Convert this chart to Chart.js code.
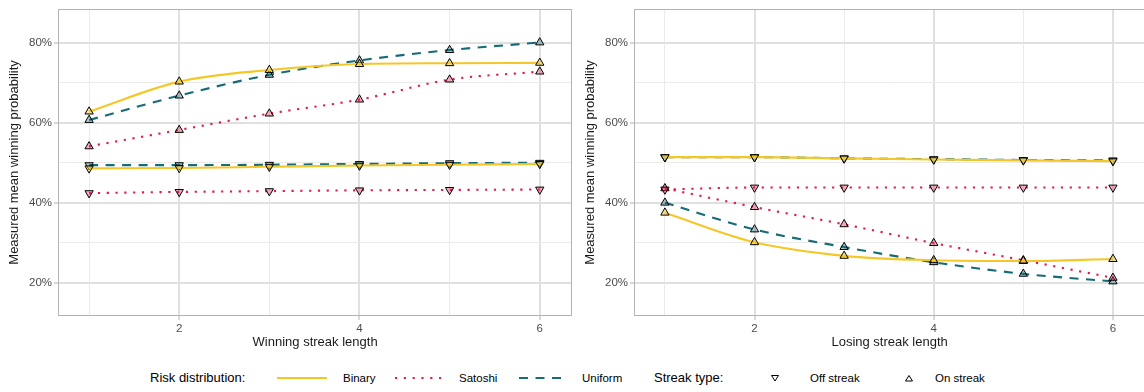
<!DOCTYPE html>
<html>
<head>
<meta charset="utf-8">
<script src="https://cdn.jsdelivr.net/npm/chart.js@4.4.1/dist/chart.umd.min.js"></script>
<style>
  html, body { margin: 0; padding: 0; background: #fff; overflow: hidden; width: 1144px; height: 392px; }
  body { position: relative; font-family: "Liberation Sans", Arial, sans-serif; }
  canvas { position: absolute; top: 0; }
  #c1 { left: 0; }
  #c2 { left: 576px; }
  .lg { position: absolute; top: 369px; height: 18px; line-height: 18px; white-space: nowrap; color: #000; }
  .lt { font-size: 13px; }
  .li { font-size: 11.5px; }
  svg.lg { overflow: visible; }
</style>
</head>
<body>
<canvas id="c1" width="578" height="356"></canvas>
<canvas id="c2" width="575" height="356"></canvas>

<span class="lg lt" style="left:150px">Risk distribution:</span>
<svg class="lg" style="left:276px" width="52" height="18"><line x1="1" y1="9" x2="51" y2="9" stroke="#F5C726" stroke-width="2"/></svg>
<span class="lg li" style="left:343px">Binary</span>
<svg class="lg" style="left:394px" width="52" height="18"><line x1="1" y1="9" x2="51" y2="9" stroke="#E5194D" stroke-width="2.2" stroke-dasharray="2.2 6.6"/></svg>
<span class="lg li" style="left:459px">Satoshi</span>
<svg class="lg" style="left:518px" width="50" height="18"><line x1="1" y1="9" x2="49" y2="9" stroke="#156B76" stroke-width="2.2" stroke-dasharray="9 7.5"/></svg>
<span class="lg li" style="left:582px">Uniform</span>
<span class="lg lt" style="left:654px">Streak type:</span>
<svg class="lg" style="left:770px" width="10" height="18"><polygon points="1.5,6.5 8.5,6.5 5,12" fill="#fff" stroke="#000" stroke-width="1"/></svg>
<span class="lg li" style="left:810px">Off streak</span>
<svg class="lg" style="left:904px" width="10" height="18"><polygon points="1.5,12 8.5,12 5,6.5" fill="#fff" stroke="#000" stroke-width="1"/></svg>
<span class="lg li" style="left:935px">On streak</span>

<script>
// ---------- data (values in %) ----------
const streakLengths = [1, 2, 3, 4, 5, 6];
const xTickLabels = [2, 4, 6];
const yTickLabels = [20, 40, 60, 80];
const yGridValues = [20, 30, 40, 50, 60, 70, 80];

// Winning streaks
const winBinaryOn   = [62.8, 70.3, 73.2, 74.7, 74.9, 75.0];
const winSatoshiOn  = [54.1, 58.2, 62.3, 65.8, 70.8, 72.8];
const winUniformOn  = [60.7, 66.8, 72.0, 75.6, 78.2, 80.1];
const winBinaryOff  = [48.6, 48.7, 49.0, 49.3, 49.5, 49.7];
const winSatoshiOff = [42.4, 42.7, 42.9, 43.1, 43.2, 43.3];
const winUniformOff = [49.4, 49.4, 49.5, 49.7, 49.9, 50.0];

// Losing streaks
const loseBinaryOn   = [37.5, 30.1, 26.7, 25.6, 25.4, 25.9];
const loseSatoshiOn  = [43.6, 38.9, 34.6, 29.9, 25.6, 21.2];
const loseUniformOn  = [40.0, 33.3, 28.9, 25.1, 22.2, 20.3];
const loseBinaryOff  = [51.4, 51.4, 51.1, 50.8, 50.6, 50.4];
const loseSatoshiOff = [43.3, 43.8, 43.8, 43.8, 43.8, 43.8];
const loseUniformOff = [51.4, 51.4, 51.1, 50.9, 50.7, 50.6];

const seriesNames = ['Binary', 'Satoshi', 'Uniform'];

// ---------- styles ----------
const colors = { Binary: '#F5C726', Satoshi: '#E5194D', Uniform: '#156B76' };
const fills  = { Binary: 'rgba(245,199,38,0.45)', Satoshi: 'rgba(229,25,77,0.35)', Uniform: 'rgba(21,107,118,0.35)' };
const dashes = { Binary: [], Satoshi: [2.2, 6.6], Uniform: [9, 7.5] };
const FONT = '"Liberation Sans", Arial, sans-serif';

function ds(name, values, on) {
  return {
    label: name + (on ? ' on' : ' off'),
    data: streakLengths.map((x, i) => ({ x: x, y: values[i] })),
    borderColor: colors[name],
    borderWidth: 2.1,
    borderDash: dashes[name],
    borderCapStyle: 'butt',
    cubicInterpolationMode: 'monotone',
    pointStyle: 'triangle',
    pointRotation: on ? 0 : 180,
    pointRadius: 4.8,
    pointBorderWidth: 1,
    pointBorderColor: '#000',
    pointBackgroundColor: fills[name],
    fill: false
  };
}

const borderPlugin = {
  id: 'panelBorder',
  afterDraw(chart) {
    const a = chart.chartArea, c = chart.ctx;
    c.save();
    c.strokeStyle = '#B3B3B3';
    c.lineWidth = 1;
    c.strokeRect(Math.round(a.left) + 0.5, Math.round(a.top) + 0.5, Math.round(a.right - a.left) - 1, Math.round(a.bottom - a.top) - 1);
    c.restore();
  }
};

function makeChart(id, xTitle, sets) {
  const datasets = [];
  sets.forEach(s => datasets.push(ds(s[0], s[1], s[2])));
  return new Chart(document.getElementById(id), {
    type: 'line',
    data: { datasets },
    plugins: [borderPlugin],
    options: {
      responsive: false,
      animation: false,
      events: [],
      layout: { padding: { top: 8, right: 5, left: 0, bottom: 0 } },
      plugins: { legend: { display: false }, tooltip: { enabled: false } },
      scales: {
        x: {
          type: 'linear',
          min: 0.655,
          max: 6.36,
          afterBuildTicks: s => { s.ticks = streakLengths.map(v => ({ value: v })); },
          afterFit: s => { s.height = 40; },
          border: { display: false },
          grid: {
            color: c => xTickLabels.includes(c.tick.value) ? '#E0E0E0' : '#EBEBEB',
            lineWidth: c => xTickLabels.includes(c.tick.value) ? 2 : 1,
            tickColor: c => xTickLabels.includes(c.tick.value) ? '#B3B3B3' : 'rgba(0,0,0,0)',
            tickLength: 4,
            tickWidth: 1,
            drawTicks: true
          },
          ticks: {
            autoSkip: false,
            maxRotation: 0,
            padding: 2,
            color: '#4D4D4D',
            font: { family: FONT, size: 11.5 },
            callback: v => xTickLabels.includes(v) ? String(v) : ''
          },
          title: {
            display: true,
            text: xTitle,
            color: '#1A1A1A',
            font: { family: FONT, size: 13 },
            padding: { top: 0, bottom: 6 }
          }
        },
        y: {
          type: 'linear',
          min: 11.65,
          max: 88.5,
          afterBuildTicks: s => { s.ticks = yGridValues.map(v => ({ value: v })); },
          afterFit: s => { s.width = 58; },
          border: { display: false },
          grid: {
            color: c => yTickLabels.includes(c.tick.value) ? '#E0E0E0' : '#EBEBEB',
            lineWidth: c => yTickLabels.includes(c.tick.value) ? 2 : 1,
            tickColor: c => yTickLabels.includes(c.tick.value) ? '#B3B3B3' : 'rgba(0,0,0,0)',
            tickLength: 4,
            tickWidth: 1,
            drawTicks: true
          },
          ticks: {
            autoSkip: false,
            padding: 2,
            color: '#4D4D4D',
            font: { family: FONT, size: 11.5 },
            callback: v => yTickLabels.includes(v) ? v + '%' : ''
          },
          title: {
            display: true,
            text: 'Measured mean winning probability',
            color: '#1A1A1A',
            font: { family: FONT, size: 13 },
            padding: { top: 7, bottom: 0 }
          }
        }
      }
    }
  });
}

makeChart('c1', 'Winning streak length', [
  ['Binary', winBinaryOff, false], ['Satoshi', winSatoshiOff, false], ['Uniform', winUniformOff, false],
  ['Binary', winBinaryOn, true], ['Satoshi', winSatoshiOn, true], ['Uniform', winUniformOn, true]
]);
makeChart('c2', 'Losing streak length', [
  ['Binary', loseBinaryOff, false], ['Satoshi', loseSatoshiOff, false], ['Uniform', loseUniformOff, false],
  ['Binary', loseBinaryOn, true], ['Satoshi', loseSatoshiOn, true], ['Uniform', loseUniformOn, true]
]);
</script>
</body>
</html>
